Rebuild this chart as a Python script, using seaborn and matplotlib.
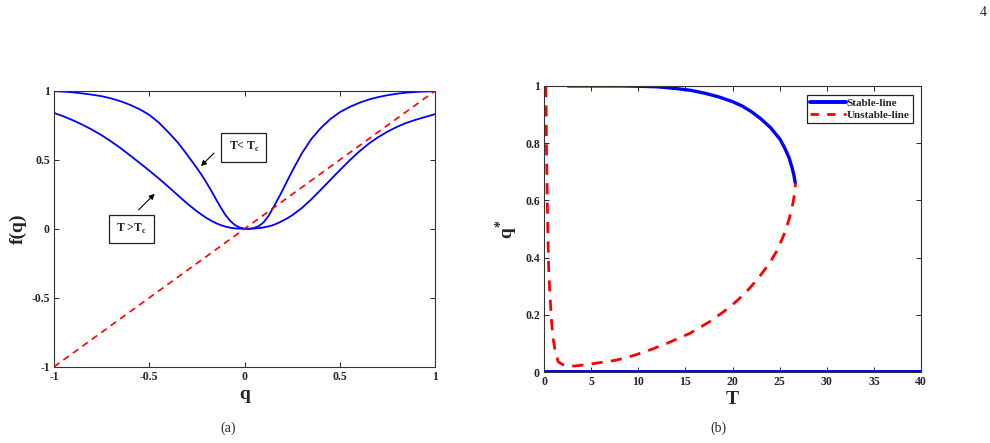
import numpy as np
import pandas as pd
import seaborn as sns
from matplotlib import pyplot as plt
from matplotlib.lines import Line2D

# panel (a): f(q) for two temperatures
q_vals = [-1.0, -0.95, -0.9, -0.85, -0.8, -0.75, -0.7, -0.65, -0.6, -0.55, -0.5,
          -0.45, -0.4, -0.35, -0.3,
          -0.25, -0.225, -0.2, -0.175, -0.15, -0.125, -0.1, -0.075, -0.05, -0.025, 0.0,
          0.025, 0.05, 0.075, 0.1, 0.125, 0.15, 0.175, 0.2, 0.225, 0.25,
          0.3, 0.35, 0.4, 0.45, 0.5, 0.55, 0.6, 0.65, 0.7, 0.75, 0.8, 0.85, 0.9, 0.95, 1.0]
f_low_T = [0.997, 0.994, 0.989, 0.981, 0.972, 0.961, 0.945, 0.924, 0.898, 0.866, 0.826,
           0.77, 0.70, 0.625, 0.535,
           0.44, 0.39, 0.335, 0.277, 0.215, 0.155, 0.10, 0.057, 0.027, 0.009, 0.001,
           0.0, 0.006, 0.02, 0.047, 0.092, 0.152, 0.215, 0.28, 0.35, 0.418,
           0.545, 0.65, 0.73, 0.795, 0.845, 0.882, 0.912, 0.936, 0.954, 0.968, 0.979,
           0.987, 0.992, 0.995, 0.997]
f_high_T = [0.84, 0.815, 0.786, 0.754, 0.718, 0.678, 0.633, 0.584, 0.531, 0.477, 0.422,
            0.365, 0.305, 0.243, 0.182,
            0.127, 0.102, 0.079, 0.059, 0.041, 0.027, 0.016, 0.008, 0.003, 0.001, 0.0,
            0.0, 0.002, 0.005, 0.01, 0.017, 0.027, 0.041, 0.058, 0.077, 0.098,
            0.15, 0.213, 0.283, 0.354, 0.425, 0.494, 0.558, 0.615, 0.663, 0.704, 0.739,
            0.768, 0.791, 0.811, 0.831]
diag_q = [-1.0, 1.0]
diag_f = [-1.0, 1.0]

# panel (b): fixed points q* vs T
stable_T = [2.55, 5, 8, 10, 12, 14, 15.5, 17, 18.5, 20, 21, 22, 23, 24, 25,
            25.5, 26, 26.3, 26.5, 26.65]
stable_q = [1.0, 1.0, 1.0, 0.999, 0.997, 0.991, 0.985, 0.975, 0.962, 0.945, 0.93,
            0.91, 0.885, 0.855, 0.815, 0.785, 0.748, 0.715, 0.688, 0.66]
zero_T = [0, 40]
zero_q = [0, 0]
unstable_T = [0.18, 0.22, 0.25, 0.3, 0.35, 0.42, 0.5, 0.58, 0.64, 0.75, 0.82, 0.95,
              1.17, 1.5, 2.0, 2.76, 3.5, 4.9, 6.3, 7.7, 9.5, 11.2, 13, 15.5, 17.5,
              19, 20.5, 21.8, 23, 24.0, 24.8, 25.5, 26.0, 26.4, 26.6, 26.67]
unstable_q = [1.0, 0.92, 0.82, 0.7, 0.59, 0.47, 0.357, 0.3, 0.27, 0.2, 0.17, 0.12,
              0.077, 0.036, 0.026, 0.021, 0.022, 0.028, 0.035, 0.042, 0.058, 0.077,
              0.1, 0.136, 0.175, 0.21, 0.25, 0.293, 0.34, 0.385, 0.43, 0.485, 0.535,
              0.59, 0.63, 0.66]

sns.set_theme(style='ticks')
plt.rcParams['font.family'] = ['Liberation Serif', 'DejaVu Serif']
plt.rcParams['mathtext.fontset'] = 'custom'
plt.rcParams['mathtext.rm'] = 'Liberation Serif'
plt.rcParams['mathtext.bf'] = 'Liberation Serif:bold'
plt.rcParams['axes.edgecolor'] = '#333333'
plt.rcParams['axes.linewidth'] = 0.8

fig = plt.figure(figsize=(9.9, 4.43), dpi=100)
ax1 = fig.add_axes([0.0545, 0.172, 0.385, 0.623])
ax2 = fig.add_axes([0.5495, 0.160, 0.381, 0.646])

dfa = pd.DataFrame({'q': q_vals, 'low': f_low_T, 'high': f_high_T})
sns.lineplot(data=dfa, x='q', y='low', ax=ax1, color='#0000ff', lw=1.3, sort=False, estimator=None)
sns.lineplot(data=dfa, x='q', y='high', ax=ax1, color='#0000ff', lw=1.3, sort=False, estimator=None)
sns.lineplot(x=diag_q, y=diag_f, ax=ax1, color='#ff0000', lw=1.2, linestyle=(0, (4, 3)))

ax1.set_xlim(-1, 1)
ax1.set_ylim(-1, 1)
ax1.set_xticks([-1, -0.5, 0, 0.5, 1])
ax1.set_xticklabels(['-1', '-0.5', '0', '0.5', '1'])
ax1.set_yticks([-1, -0.5, 0, 0.5, 1])
ax1.set_yticklabels(['-1', '-0.5', '0', '0.5', '1'])
ax1.set_xlabel('q', fontsize=14, fontweight='bold', labelpad=2)
ax1.set_ylabel('f(q)', fontsize=14, fontweight='bold', labelpad=3)

box = dict(boxstyle='square,pad=0.6', fc='white', ec='#222222', lw=0.9)
ax1.text(-0.003, 0.59, r'T< T$_{\mathbf{c}}$', fontsize=8.5, fontweight='bold',
         ha='center', va='center', bbox=box)
ax1.annotate('', xy=(-0.239, 0.44), xytext=(-0.15, 0.563),
             arrowprops=dict(arrowstyle='-|>', color='black', lw=0.8, mutation_scale=8))
ax1.text(-0.593, 0.0, r'T >T$_{\mathbf{c}}$', fontsize=8.5, fontweight='bold',
         ha='center', va='center', bbox=box)
ax1.annotate('', xy=(-0.461, 0.268), xytext=(-0.566, 0.123),
             arrowprops=dict(arrowstyle='-|>', color='black', lw=0.8, mutation_scale=8))

sns.lineplot(x=zero_T, y=zero_q, ax=ax2, color='#0000ff', lw=2.8)
sns.lineplot(x=stable_T, y=stable_q, ax=ax2, color='#0000ff', lw=2.4, sort=False, estimator=None)
sns.lineplot(x=unstable_T, y=unstable_q, ax=ax2, color='#ff0000', lw=2.0,
             linestyle=(0, (4, 3)), sort=False, estimator=None)

ax2.set_xlim(0, 40)
ax2.set_ylim(0, 1)
ax2.set_xticks(range(0, 41, 5))
ax2.set_yticks([0, 0.2, 0.4, 0.6, 0.8, 1])
ax2.set_yticklabels(['0', '0.2', '0.4', '0.6', '0.8', '1'])
ax2.set_xlabel('T', fontsize=14, fontweight='bold', labelpad=2)
ax2.set_ylabel(r'$\mathbf{q}^{\mathbf{*}}$', fontsize=14, labelpad=4)

handles = [Line2D([], [], color='#0000ff', lw=2.8),
           Line2D([], [], color='#ff0000', lw=2.0, linestyle=(0, (3, 3)))]
leg = ax2.legend(handles, ['Stable-line', 'Unstable-line'], loc='upper right',
                 bbox_to_anchor=(0.978, 0.97), fancybox=False, framealpha=1,
                 edgecolor='#222222', handlelength=3.2, handletextpad=0.1,
                 borderpad=0.3, labelspacing=0.2, borderaxespad=0,
                 prop={'weight': 'bold', 'size': 8})
leg.get_frame().set_linewidth(0.9)

for ax in (ax1, ax2):
    ax.tick_params(direction='in', top=True, right=True, length=3.5, width=0.7,
                   labelsize=8.5, pad=3, color='#222222')
    for lab in ax.get_xticklabels() + ax.get_yticklabels():
        lab.set_fontweight('bold')
    for sp in ax.spines.values():
        sp.set_visible(True)

fig.text(228 / 990, 1 - 428 / 443, '(a)', ha='center', va='center', fontsize=10)
fig.text(718 / 990, 1 - 428 / 443, '(b)', ha='center', va='center', fontsize=10)
fig.text(983 / 990, 1 - 12 / 443, '4', ha='center', va='center', fontsize=10)

plt.savefig('out.png', dpi=100)
